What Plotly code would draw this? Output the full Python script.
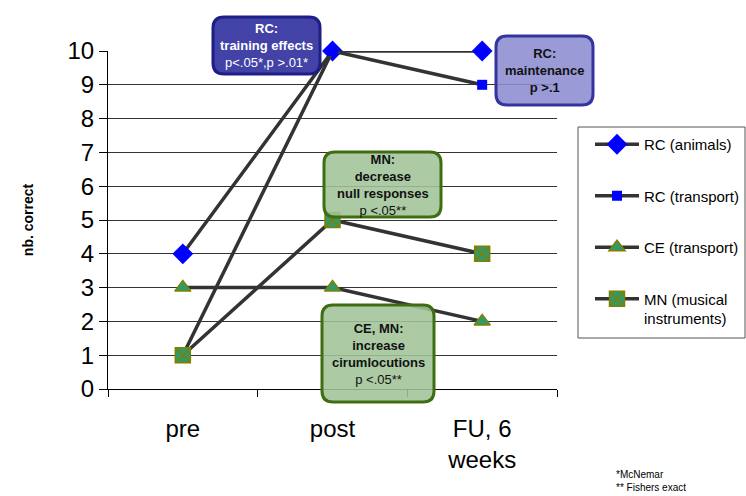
import plotly.graph_objects as go

# ---- data ----
categories = ["pre", "post", "FU, 6<br>weeks"]
rc_animals = [4, 10, 10]
rc_transport = [1, 10, 9]
ce_transport = [3, 3, 2]
mn_musical = [1, 5, 4]
series_names = ["RC (animals)", "RC (transport)", "CE (transport)", "MN (musical<br>instruments)"]
y_ticks = list(range(0, 11))

W, H = 746, 496
ML, MR, MT, MB = 108, 189, 51, 107
PW, PH = W - ML - MR, H - MT - MB
FONT = "Liberation Sans, Arial, Helvetica, sans-serif"
LINE = "#333333"


def px(X, Y):
    return (X - ML) / PW, (H - MB - Y) / PH


fig = go.Figure()

specs = [
    (rc_animals, dict(symbol="diamond", size=16, color="#0000ff", line=dict(width=0))),
    (rc_transport, dict(symbol="square", size=10, color="#0000ff", line=dict(width=0))),
    (ce_transport, dict(symbol="triangle-up", size=14, color="#339966", line=dict(width=1.5, color="#808000"))),
    (mn_musical, dict(symbol="square-x", size=15, color="#339966", line=dict(width=1.5, color="#808000"))),
]
for i, (vals, mk) in enumerate(specs):
    fig.add_trace(go.Scatter(
        x=categories, y=vals, mode="lines+markers", name=series_names[i],
        legendgroup=f"g{i}", line=dict(color=LINE, width=3.5), marker=mk,
        cliponaxis=False,
    ))


def rrect(x0, y0, x1, y1, r=11):
    a0, b0 = px(x0, y1)  # bottom-left
    a1, b1 = px(x1, y0)  # top-right
    rx, ry = r / PW, r / PH
    return (f"M {a0+rx},{b0} L {a1-rx},{b0} Q {a1},{b0} {a1},{b0+ry} "
            f"L {a1},{b1-ry} Q {a1},{b1} {a1-rx},{b1} L {a0+rx},{b1} "
            f"Q {a0},{b1} {a0},{b1-ry} L {a0},{b0+ry} Q {a0},{b0} {a0+rx},{b0} Z")


boxes = [
    ((213, 17, 320, 74), "rgba(56,56,162,0.95)", "#1e1e88", "white",
     "<b>RC:</b><br><b>training effects</b><br>p&lt;.05*,p &gt;.01*"),
    ((496, 36, 593, 105), "rgba(140,140,210,0.88)", "#34349e", "#111111",
     "<b>RC:</b><br><b>maintenance</b><br><b>p &gt;.1</b>"),
    ((324, 152, 441, 217), "rgba(160,196,152,0.88)", "#3f6e12", "#111111",
     "<b>MN:</b><br><b>decrease</b><br><b>null responses</b><br>p &lt;.05**"),
    ((322, 305, 434, 402), "rgba(160,196,152,0.88)", "#3f6e12", "#111111",
     "<b>CE, MN:</b><br><b>increase</b><br><b>cirumlocutions</b><br>p &lt;.05**"),
]
shapes = []
annotations = []
for (x0, y0, x1, y1), fill, border, tc, txt in boxes:
    shapes.append(dict(type="path", xref="paper", yref="paper", path=rrect(x0, y0, x1, y1),
                       fillcolor=fill, line=dict(color=border, width=3), layer="above"))
    cx, cy = px((x0 + x1) / 2, (y0 + y1) / 2)
    annotations.append(dict(xref="paper", yref="paper", x=cx, y=cy, text=txt, showarrow=False,
                            font=dict(family=FONT, size=13, color=tc), align="center",
                            xanchor="center", yanchor="middle"))

# legend frame
lb0 = px(578, 338)
lb1 = px(745, 127)
shapes.append(dict(type="rect", xref="paper", yref="paper", x0=lb0[0], y0=lb0[1], x1=lb1[0], y1=lb1[1],
                   line=dict(color="#555555", width=1), fillcolor="white", layer="below"))

fx, fy = px(614, 481)
annotations.append(dict(xref="paper", yref="paper", x=fx, y=fy, text="*McNemar<br>** Fishers exact",
                        showarrow=False, font=dict(family=FONT, size=10, color="black"),
                        align="left", xanchor="left", yanchor="middle"))

fig.update_layout(
    width=W, height=H,
    margin=dict(l=ML, r=MR, t=MT, b=MB, pad=0, autoexpand=False),
    paper_bgcolor="white", plot_bgcolor="white",
    font=dict(family=FONT, color="black"),
    shapes=shapes, annotations=annotations,
    showlegend=True,
    legend=dict(xref="container", yref="container", x=590 / W, y=1 - 128 / H,
                xanchor="left", yanchor="top", borderwidth=0, valign="top",
                bgcolor="rgba(0,0,0,0)", font=dict(family=FONT, size=15, color="black"),
                tracegroupgap=29, itemwidth=44, traceorder="grouped"),
    xaxis=dict(type="category", range=[-0.5, 2.5], tickson="boundaries", ticks="outside",
               ticklen=7, tickcolor="black", showline=True, linecolor="black", linewidth=1,
               showgrid=False, tickfont=dict(family=FONT, size=24, color="black"),
               ticklabelstandoff=18, automargin=False),
    yaxis=dict(range=[0, 10], tickvals=y_ticks, ticks="outside", ticklen=8, tickcolor="black",
               showline=True, linecolor="black", linewidth=1, showgrid=True, gridcolor="#333333",
               gridwidth=1, zeroline=False, tickfont=dict(family=FONT, size=24, color="black"),
               automargin=False,
               title=dict(text="<b>nb. correct</b>", font=dict(family=FONT, size=14, color="black"),
                          standoff=30)),
)

fig.write_html("out.html", config={"displayModeBar": False},
               post_script="document.body.style.margin='0px';document.body.style.overflow='hidden';")
